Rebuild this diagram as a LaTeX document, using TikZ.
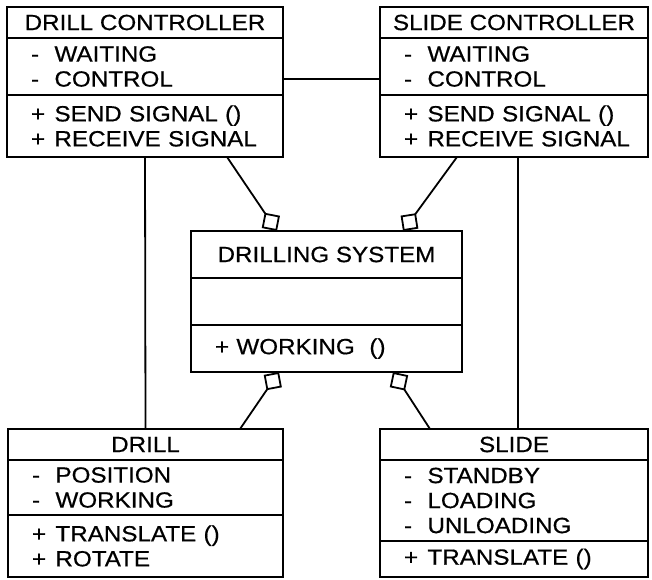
\documentclass[tikz,border=0pt]{standalone}
\usepackage{fontspec}
\setmainfont{Liberation Sans}[FakeStretch=1.1, FakeBold=0.6]
\usetikzlibrary{positioning,arrows.meta}

% one member line: visibility mark, then the name
\newcommand{\mem}[2]{\mbox{\makebox[23.5pt][l]{#1}#2}}

\begin{document}
\begin{tikzpicture}[x=1pt, y=-1pt, line width=1.8pt,
    font=\fontsize{22}{25}\selectfont,
    part/.style={draw, inner xsep=0pt, inner ysep=0pt, outer sep=0pt},
    members/.style={part, inner xsep=24pt, align=left},
    agg/.style={-{Diamond[open, length=22pt, width=22pt]}}]
    \useasboundingbox (0,0) rectangle (652,579);

    % drill controller
    \node [part, anchor=north west, minimum width=276pt, minimum height=31pt] (dct) at (7,7) {DRILL CONTROLLER};
    \node [members, below=0pt of dct, text width=228pt, minimum height=57pt] (dca) {\mem{-}{WAITING}\\ \mem{-}{CONTROL}};
    \node [members, below=0pt of dca, text width=228pt, minimum height=62pt] (dcm) {\mem{+}{SEND SIGNAL ()}\\ \mem{+}{RECEIVE SIGNAL}};

    % slide controller
    \node [part, anchor=north west, minimum width=268pt, minimum height=31pt] (sct) at (380,7) {SLIDE CONTROLLER};
    \node [members, below=0pt of sct, text width=220pt, minimum height=57pt] (sca) {\mem{-}{WAITING}\\ \mem{-}{CONTROL}};
    \node [members, below=0pt of sca, text width=220pt, minimum height=62pt] (scm) {\mem{+}{SEND SIGNAL ()}\\ \mem{+}{RECEIVE SIGNAL}};

    % drilling system
    \node [part, anchor=north west, minimum width=271pt, minimum height=47pt] (dst) at (191,231) {DRILLING SYSTEM};
    \node [part, below=0pt of dst, minimum width=271pt, minimum height=47pt] (dsa) {};
    \node [members, below=0pt of dsa, text width=223pt, minimum height=47pt] (dsm) {+ WORKING\ \ ()};

    % drill
    \node [part, anchor=north west, minimum width=275pt, minimum height=31pt] (drt) at (8,429) {DRILL};
    \node [members, below=0pt of drt, text width=227pt, minimum height=55pt] (dra) {\mem{-}{POSITION}\\ \mem{-}{WORKING}};
    \node [members, below=0pt of dra, text width=227pt, minimum height=62pt] (drm) {\mem{+}{TRANSLATE ()}\\ \mem{+}{ROTATE}};

    % slide
    \node [part, anchor=north west, minimum width=268pt, minimum height=31pt] (slt) at (380,429) {SLIDE};
    \node [members, below=0pt of slt, text width=220pt, minimum height=81pt] (sla) {\mem{-}{STANDBY}\\ \mem{-}{LOADING}\\ \mem{-}{UNLOADING}};
    \node [members, below=0pt of sla, text width=220pt, minimum height=36pt] (slm) {\mem{+}{TRANSLATE ()}};

    % associations
    \draw ([yshift=-12.5pt]dca.east) -- ([yshift=-12.5pt]sca.west);
    \draw (dcm.south) -- (drt.north);
    \draw ([xshift=4pt]scm.south) -- ([xshift=4pt]slt.north);

    % aggregations
    \draw [agg] ([xshift=82pt]dcm.south) -- ([xshift=-49.5pt]dst.north);
    \draw [agg] ([xshift=-57pt]scm.south) -- ([xshift=76.5pt]dst.north);
    \draw [agg] ([xshift=94.5pt]drt.north) -- ([xshift=-47.5pt]dsm.south);
    \draw [agg] ([xshift=-84pt]slt.north) -- ([xshift=66.5pt]dsm.south);
\end{tikzpicture}
\end{document}
